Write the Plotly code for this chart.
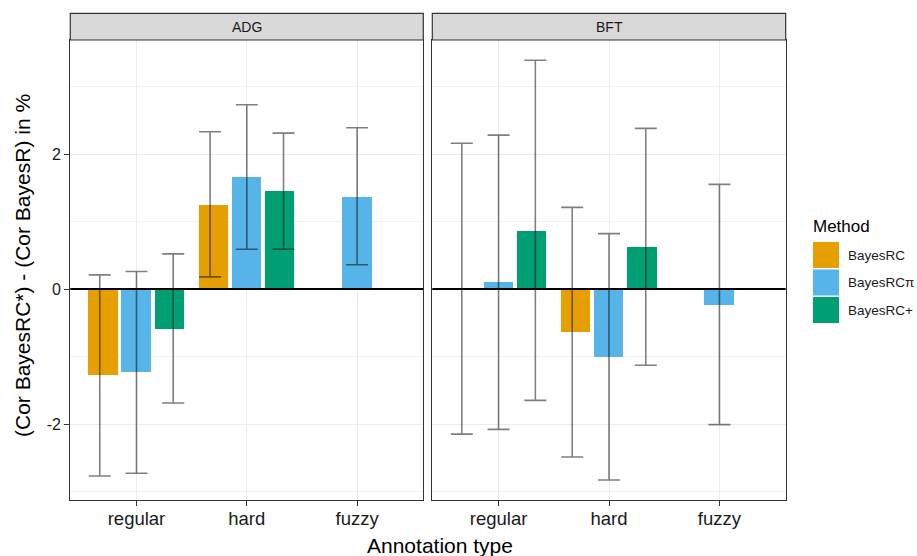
import plotly.graph_objects as go

# ---------------- data ----------------
traits = ["ADG", "BFT"]
categories = ["regular", "hard", "fuzzy"]
methods = ["BayesRC", "BayesRCπ", "BayesRC+"]
colors = ["#E69F00", "#56B4E9", "#009E73"]

# mean difference (%) per trait -> method -> category (None = not available)
adg_mean = {
    "BayesRC":  [-1.27, 1.25, None],
    "BayesRCπ": [-1.23, 1.66, 1.36],
    "BayesRC+": [-0.59, 1.45, None],
}
adg_lower = {
    "BayesRC":  [-2.77, 0.18, None],
    "BayesRCπ": [-2.73, 0.59, 0.36],
    "BayesRC+": [-1.69, 0.59, None],
}
adg_upper = {
    "BayesRC":  [0.21, 2.33, None],
    "BayesRCπ": [0.26, 2.73, 2.39],
    "BayesRC+": [0.52, 2.31, None],
}
bft_mean = {
    "BayesRC":  [0.005, -0.63, None],
    "BayesRCπ": [0.10, -1.00, -0.23],
    "BayesRC+": [0.86, 0.62, None],
}
bft_lower = {
    "BayesRC":  [-2.15, -2.49, None],
    "BayesRCπ": [-2.08, -2.83, -2.01],
    "BayesRC+": [-1.65, -1.13, None],
}
bft_upper = {
    "BayesRC":  [2.16, 1.21, None],
    "BayesRCπ": [2.28, 0.82, 1.55],
    "BayesRC+": [3.39, 2.38, None],
}
y_ticks = [-2, 0, 2]

data = {
    "ADG": (adg_mean, adg_lower, adg_upper),
    "BFT": (bft_mean, bft_lower, bft_upper),
}

# ---------------- layout helpers ----------------
W, H = 917, 556
def px(x):
    return x / W
def py(y):
    return 1 - y / H

FONT = "Liberation Sans, Arial, sans-serif"
panel_x = [(70.3, 423.3), (432.3, 785.7)]
panel_top, panel_bot = 40, 500
strip_top = 13.3

bar_offsets = [-0.3, 0.0, 0.3]
err_offsets = [-0.333, 0.0, 0.333]
bar_width = 0.8 / 3

fig = go.Figure()

for p, trait in enumerate(traits):
    mean, lower, upper = data[trait]
    xa = "x" if p == 0 else "x2"
    ya = "y" if p == 0 else "y2"
    for m, meth in enumerate(methods):
        xs, ys = [], []
        for c, cat in enumerate(categories):
            v = mean[meth][c]
            if v is None:
                continue
            xs.append(c + 1 + bar_offsets[m])
            ys.append(v)
        fig.add_trace(go.Bar(
            x=xs, y=ys, width=bar_width, marker=dict(color=colors[m], line=dict(width=0)),
            xaxis=xa, yaxis=ya, showlegend=False, name=meth,
        ))
    for m, meth in enumerate(methods):
        xs, ys, ep, em = [], [], [], []
        for c, cat in enumerate(categories):
            v = mean[meth][c]
            if v is None:
                continue
            xs.append(c + 1 + err_offsets[m])
            ys.append(v)
            ep.append(upper[meth][c] - v)
            em.append(v - lower[meth][c])
        fig.add_trace(go.Scatter(
            x=xs, y=ys, mode="markers", marker=dict(size=1, opacity=0),
            error_y=dict(type="data", symmetric=False, array=ep, arrayminus=em,
                         color="rgba(0,0,0,0.5)", thickness=1.6, width=11),
            xaxis=xa, yaxis=ya, showlegend=False, hoverinfo="skip",
        ))

yr = [-3.126, 3.689]
axis_common = dict(
    showline=True, mirror=True, linecolor="#333333", linewidth=1.2,
    ticks="outside", ticklen=5, tickcolor="#333333", tickwidth=1.2,
    gridcolor="#EBEBEB", gridwidth=1.3, zeroline=False,
)
xcommon = dict(range=[0.4, 3.6], tickvals=[1, 2, 3], ticktext=categories,
               tickfont=dict(family=FONT, size=18.5, color="#1a1a1a"),
               ticklabelstandoff=-3, **axis_common)
fig.update_layout(
    xaxis=dict(domain=[px(panel_x[0][0]), px(panel_x[0][1])], anchor="y", **xcommon),
    xaxis2=dict(domain=[px(panel_x[1][0]), px(panel_x[1][1])], anchor="y2", **xcommon),
    yaxis=dict(domain=[py(panel_bot), py(panel_top)], range=yr, tickvals=y_ticks,
               ticktext=[str(t) if t >= 0 else "-" + str(-t) for t in y_ticks],
               anchor="x", tickfont=dict(family=FONT, size=16, color="#1a1a1a"),
               minor=dict(tickvals=[-3, -1, 1, 3], showgrid=True, gridcolor="#F2F2F2",
                          gridwidth=0.8, ticks=""),
               **axis_common),
    yaxis2=dict(domain=[py(panel_bot), py(panel_top)], range=yr, tickvals=y_ticks,
                showticklabels=False, ticks="", anchor="x2", matches="y",
                minor=dict(tickvals=[-3, -1, 1, 3], showgrid=True, gridcolor="#F2F2F2",
                           gridwidth=0.8, ticks=""),
                **{k: v for k, v in axis_common.items() if k not in ("ticks",)}),
    width=W, height=H, margin=dict(l=0, r=0, t=0, b=0),
    plot_bgcolor="white", paper_bgcolor="white", showlegend=False,
    bargap=0, barmode="overlay",
)

shapes = []
annotations = []
for p, trait in enumerate(traits):
    x0, x1 = panel_x[p]
    shapes.append(dict(type="rect", xref="paper", yref="paper",
                       x0=px(x0), x1=px(x1), y0=py(panel_top), y1=py(strip_top),
                       fillcolor="#D9D9D9", line=dict(color="#333333", width=1.2)))
    annotations.append(dict(xref="paper", yref="paper", x=px((x0 + x1) / 2),
                            y=py((panel_top + strip_top) / 2), text=trait,
                            showarrow=False, xanchor="center", yanchor="middle",
                            font=dict(family=FONT, size=14, color="#1a1a1a")))
    # reference line at zero
    shapes.append(dict(type="line", xref=("x" if p == 0 else "x2") + " domain",
                       yref="y" if p == 0 else "y2", x0=0, x1=1, y0=0, y1=0,
                       line=dict(color="black", width=1.8), layer="above"))

# axis titles
annotations.append(dict(xref="paper", yref="paper", x=px(440), y=py(545),
                        text="Annotation type", showarrow=False,
                        xanchor="center", yanchor="middle",
                        font=dict(family=FONT, size=21, color="black")))
annotations.append(dict(xref="paper", yref="paper", x=px(22), y=py(266),
                        text="(Cor BayesRC*) - (Cor BayesR) in %", showarrow=False,
                        textangle=-90, xanchor="center", yanchor="middle",
                        font=dict(family=FONT, size=21, color="black")))

# legend (manual)
annotations.append(dict(xref="paper", yref="paper", x=px(811), y=py(226),
                        text="Method", showarrow=False, xanchor="left", yanchor="middle",
                        font=dict(family=FONT, size=17, color="black")))
key_tops = [242, 269.5, 297]
for m, meth in enumerate(methods):
    t = key_tops[m]
    shapes.append(dict(type="rect", xref="paper", yref="paper",
                       x0=px(813), x1=px(839), y0=py(t + 26), y1=py(t),
                       fillcolor=colors[m], line=dict(width=0)))
    annotations.append(dict(xref="paper", yref="paper", x=px(846), y=py(t + 13),
                            text=meth, showarrow=False, xanchor="left", yanchor="middle",
                            font=dict(family=FONT, size=13.5, color="#1a1a1a")))

fig.update_layout(shapes=shapes, annotations=annotations)
fig.write_html("out.html")
